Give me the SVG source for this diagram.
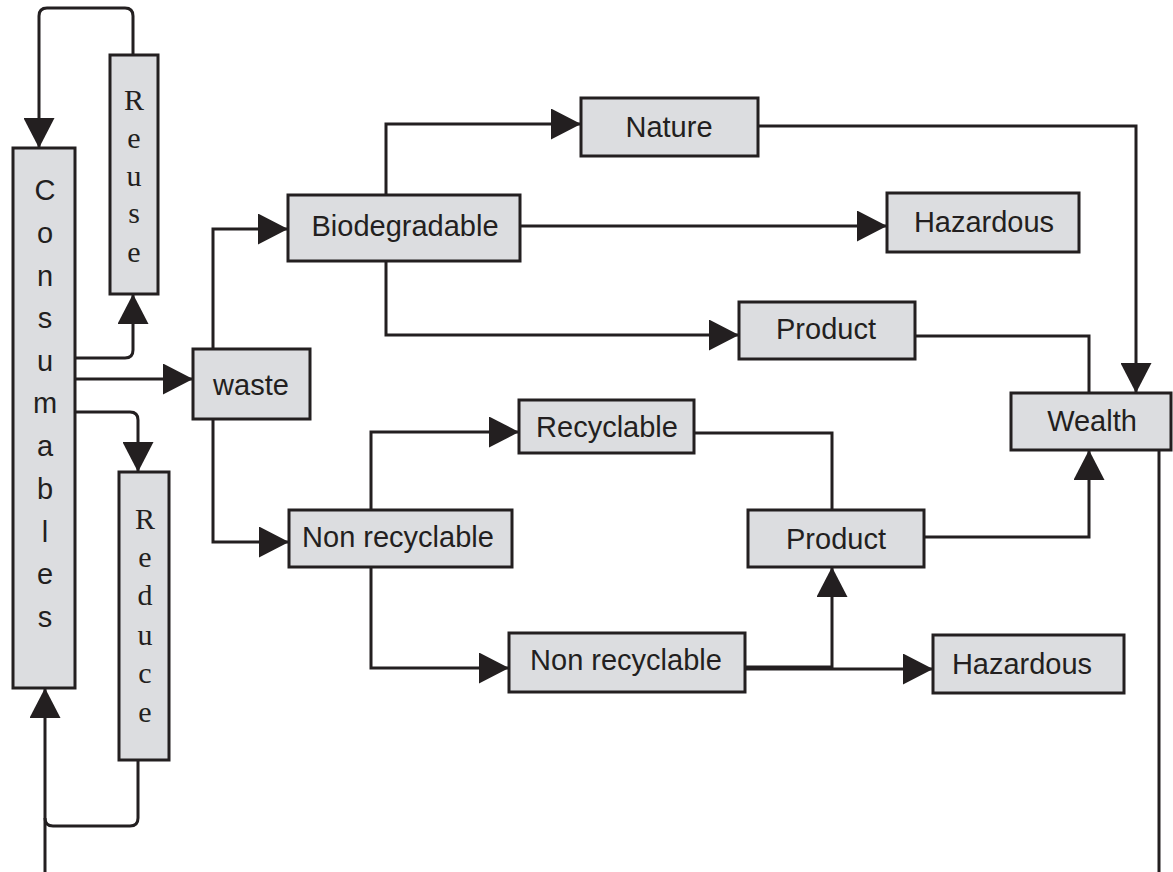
<svg xmlns="http://www.w3.org/2000/svg" width="1173" height="872" viewBox="0 0 1173 872">
<style>
.box{fill:#dcdde0;stroke:#231f20;stroke-width:3}
.lbl{font-family:"Liberation Sans",Arial,sans-serif;font-size:29px;fill:#231f20;text-anchor:middle}
.ser{font-family:"Liberation Serif","Times New Roman",serif;font-size:30px;fill:#231f20;text-anchor:middle}
.ln{fill:none;stroke:#231f20;stroke-width:3}
.arr{marker-end:url(#ah)}
</style>
<defs>
<marker id="ah" viewBox="0 0 30 31" refX="30" refY="15.5" markerWidth="30" markerHeight="31" markerUnits="userSpaceOnUse" orient="auto">
<path d="M0,0 L30,15.5 L0,31 Z" fill="#231f20"/>
</marker>
</defs>
<rect width="1173" height="872" fill="#ffffff"/>
<g id="connectors">
<path class="ln arr" d="M133,55 V16 Q133,8 125,8 H47 Q39,8 39,16 V148"/>
<path class="ln arr" d="M75,358 H125 Q133,358 133,350 V294"/>
<path class="ln arr" d="M75,379 H193"/>
<path class="ln arr" d="M75,412 H130 Q138,412 138,420 V472"/>
<path class="ln" d="M138,760 V818 Q138,826 130,826 H53 Q45,826 45,818"/>
<path class="ln arr" d="M45,872 V688"/>
<path class="ln" d="M1159,450 V872"/>
<path class="ln arr" d="M213,349 V229 H288"/>
<path class="ln arr" d="M213,419 V542 H289"/>
<path class="ln arr" d="M386,195 V124 H581"/>
<path class="ln arr" d="M758,126 H1136 V393"/>
<path class="ln arr" d="M520,226 H887"/>
<path class="ln arr" d="M386,261 V335 H739"/>
<path class="ln" d="M915,336 H1089 V393"/>
<path class="ln arr" d="M371,510 V432 H519"/>
<path class="ln" d="M694,433 H832 V510"/>
<path class="ln arr" d="M371,567 V668 H509"/>
<path class="ln arr" d="M745,667 H832 V567"/>
<path class="ln arr" d="M745,669 H933"/>
<path class="ln arr" d="M924,537 H1089 V450"/>
</g>
<g id="consumables">
<rect class="box" x="13" y="148" width="62" height="540"/>
<text class="lbl"><tspan x="45" y="200">C</tspan><tspan x="45" y="243">o</tspan><tspan x="45" y="286">n</tspan><tspan x="45" y="328">s</tspan><tspan x="45" y="371">u</tspan><tspan x="45" y="413">m</tspan><tspan x="45" y="456">a</tspan><tspan x="45" y="499">b</tspan><tspan x="45" y="542">l</tspan><tspan x="45" y="584">e</tspan><tspan x="45" y="627">s</tspan></text>
</g>
<g id="reuse">
<rect class="box" x="110" y="55" width="48" height="239"/>
<text class="ser"><tspan x="134" y="110">R</tspan><tspan x="134" y="148">e</tspan><tspan x="134" y="186">u</tspan><tspan x="134" y="223">s</tspan><tspan x="134" y="262">e</tspan></text>
</g>
<g id="reduce">
<rect class="box" x="119" y="472" width="50" height="288"/>
<text class="ser"><tspan x="145" y="529">R</tspan><tspan x="145" y="567">e</tspan><tspan x="145" y="605">d</tspan><tspan x="145" y="645">u</tspan><tspan x="145" y="683">c</tspan><tspan x="145" y="722">e</tspan></text>
</g>
<g id="waste">
<rect class="box" x="193" y="349" width="117" height="70"/>
<text class="lbl" x="251" y="395">waste</text>
</g>
<g id="biodegradable">
<rect class="box" x="288" y="195" width="232" height="66"/>
<text class="lbl" x="405" y="236">Biodegradable</text>
</g>
<g id="nature">
<rect class="box" x="581" y="98" width="177" height="58"/>
<text class="lbl" x="669" y="137">Nature</text>
</g>
<g id="hazardous1">
<rect class="box" x="887" y="193" width="192" height="59"/>
<text class="lbl" x="984" y="232">Hazardous</text>
</g>
<g id="product1">
<rect class="box" x="739" y="302" width="176" height="57"/>
<text class="lbl" x="826" y="339">Product</text>
</g>
<g id="wealth">
<rect class="box" x="1011" y="393" width="160" height="57"/>
<text class="lbl" x="1092" y="431">Wealth</text>
</g>
<g id="nonrecyclable1">
<rect class="box" x="289" y="510" width="223" height="57"/>
<text class="lbl" x="398" y="547">Non recyclable</text>
</g>
<g id="recyclable">
<rect class="box" x="519" y="400" width="175" height="53"/>
<text class="lbl" x="607" y="437">Recyclable</text>
</g>
<g id="product2">
<rect class="box" x="748" y="510" width="176" height="57"/>
<text class="lbl" x="836" y="549">Product</text>
</g>
<g id="nonrecyclable2">
<rect class="box" x="509" y="633" width="236" height="59"/>
<text class="lbl" x="626" y="670">Non recyclable</text>
</g>
<g id="hazardous2">
<rect class="box" x="933" y="635" width="191" height="58"/>
<text class="lbl" x="1022" y="674">Hazardous</text>
</g>
</svg>
